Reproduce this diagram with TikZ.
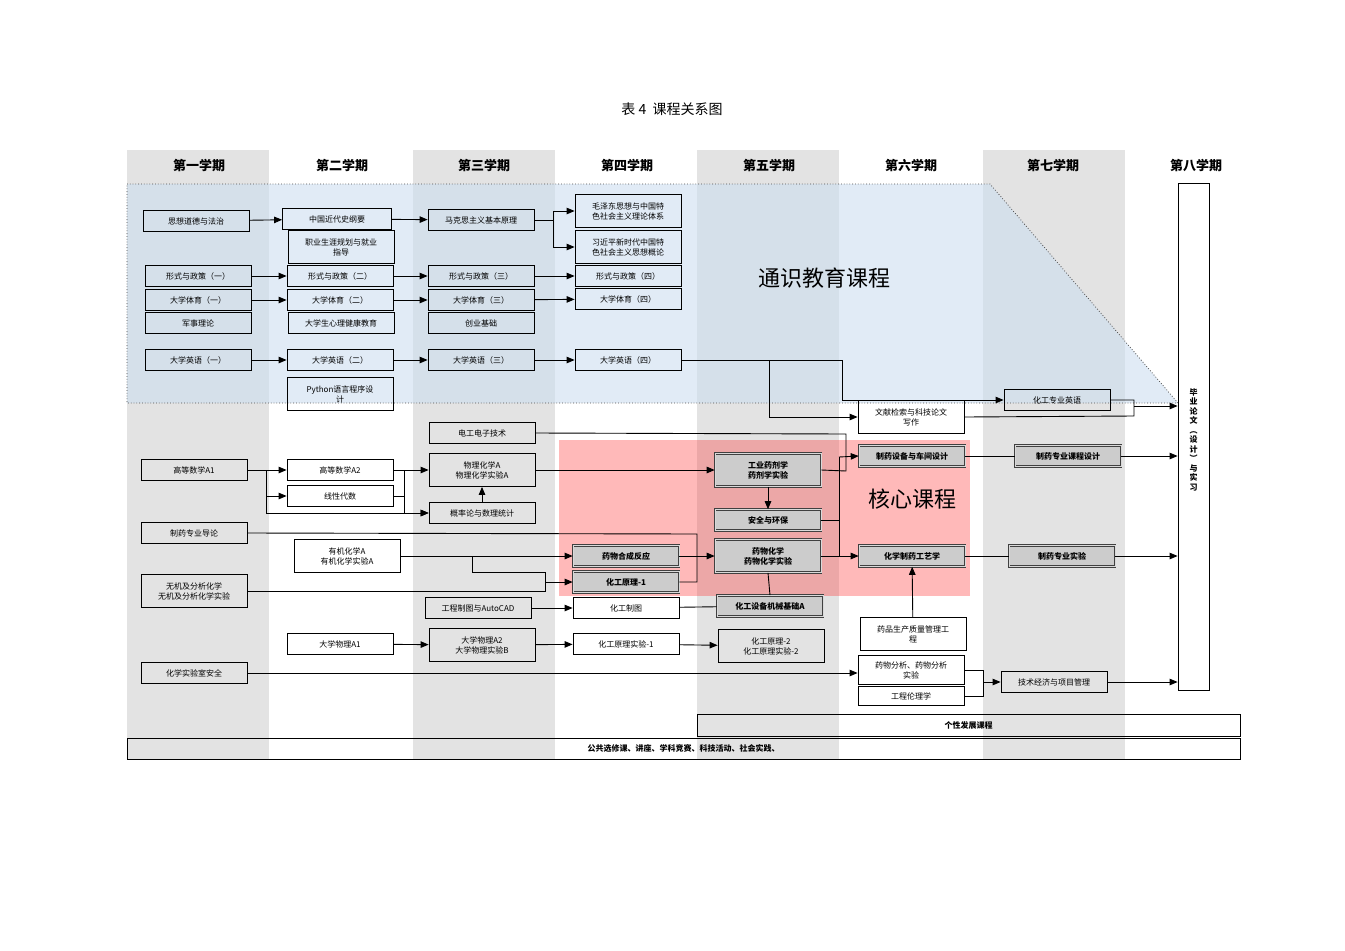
\documentclass[tikz,border=0pt]{standalone}
\usepackage{fontspec}
\setmainfont{Noto Sans CJK SC}
\usetikzlibrary{arrows.meta}
\definecolor{gblue}{RGB}{205,222,240}
\begin{document}
\begin{tikzpicture}[x=1pt,y=-1pt,
 box/.style={draw=black,line width=0.8pt,minimum width=106pt,minimum height=21pt,inner sep=1pt,align=center,font=\fontsize{8}{10}\selectfont},
 tall/.style={box,minimum height=33pt},
 core/.style={box,fill=gray!40,draw=black!75,double=gray!30,double distance=1pt,line width=0.6pt,font=\fontsize{8}{10}\selectfont\bfseries},
 hd/.style={font=\fontsize{13}{15}\selectfont\bfseries},
 ln/.style={line width=0.9pt},
 ar/.style={ln,-{Triangle[length=8pt,width=6.5pt]}}]
\useasboundingbox (0,0) rectangle (1345,951);
\fill[white] (0,0) rectangle (1345,951);
\foreach \x in {127,413,697,983}{\fill[black!11] (\x,150) rectangle (\x+142,760);}
\fill[gblue,opacity=0.6] (127,184) -- (990,184) -- (1178,403) -- (127,403) -- cycle;
\draw[dotted,line width=0.8pt,black!70] (127,184) -- (990,184) -- (1178,403) -- (127,403) -- cycle;
\fill[red!70!pink,opacity=0.35] (559,440) rectangle (970,596);
\node[font=\fontsize{14}{16}\selectfont] (title) at (672,109) {表 4 \ 课程关系图};
\foreach \x/\t [count=\i] in {199/第一学期,342/第二学期,484/第三学期,627/第四学期,769/第五学期,911/第六学期,1053/第七学期,1196/第八学期}
 {\node[hd] (h\i) at (\x,166) {\t};}
\node[font=\fontsize{22}{26}\selectfont] (gl) at (824,278) {通识教育课程};
\node[font=\fontsize{22}{26}\selectfont] (cl) at (912,499) {核心课程};
% column 1
\node[box] (A1) at (196,221) {思想道德与法治};
\node[box] (A2) at (198,276) {形式与政策（一）};
\node[box] (A3) at (198,300) {大学体育（一）};
\node[box] (A4) at (198,323) {军事理论};
\node[box] (A5) at (198,360) {大学英语（一）};
\node[box] (A6) at (194,470) {高等数学A1};
\node[box] (A7) at (194,533) {制药专业导论};
\node[tall] (A8) at (194,591) {无机及分析化学\\无机及分析化学实验};
\node[box] (A9) at (194,673) {化学实验室安全};
% column 2
\node[box,minimum width=109pt] (B1) at (337,219) {中国近代史纲要};
\node[tall] (B2) at (341,247) {职业生涯规划与就业\\指导};
\node[box] (B3) at (340,276) {形式与政策（二）};
\node[box] (B4) at (340,300) {大学体育（二）};
\node[box] (B5) at (341,323) {大学生心理健康教育};
\node[box] (B6) at (340,360) {大学英语（二）};
\node[tall] (B7) at (340,394) {Python语言程序设\\计};
\node[box] (B8) at (340,470) {高等数学A2};
\node[box] (B9) at (340,496) {线性代数};
\node[tall] (B10) at (347,556) {有机化学A\\有机化学实验A};
\node[box] (B11) at (340,644) {大学物理A1};
% column 3
\node[box] (C1) at (481,220) {马克思主义基本原理};
\node[box] (C2) at (481,276) {形式与政策（三）};
\node[box] (C3) at (481,300) {大学体育（三）};
\node[box] (C4) at (481,323) {创业基础};
\node[box] (C5) at (481,360) {大学英语（三）};
\node[box] (C6) at (482,433) {电工电子技术};
\node[tall] (C7) at (482,470) {物理化学A\\物理化学实验A};
\node[box] (C8) at (482,513) {概率论与数理统计};
\node[box] (C9) at (478,608) {工程制图与AutoCAD};
\node[tall] (C10) at (482,645) {大学物理A2\\大学物理实验B};
% column 4
\node[tall] (D1) at (628,211) {毛泽东思想与中国特\\色社会主义理论体系};
\node[tall] (D2) at (628,247) {习近平新时代中国特\\色社会主义思想概论};
\node[box] (D3) at (628,276) {形式与政策（四）};
\node[box] (D4) at (628,299) {大学体育（四）};
\node[box] (D5) at (628,360) {大学英语（四）};
\node[core] (D6) at (626,556) {药物合成反应};
\node[core] (D7) at (626,582) {化工原理-1};
\node[box] (D8) at (626,608) {化工制图};
\node[box] (D9) at (626,644) {化工原理实验-1};
% column 5
\node[core,minimum height=33pt] (E1) at (768,470) {工业药剂学\\药剂学实验};
\node[core] (E2) at (768,520) {安全与环保};
\node[core,minimum height=33pt] (E3) at (768,556) {药物化学\\药物化学实验};
\node[core] (E4) at (770,606) {化工设备机械基础A};
\node[tall] (E5) at (771,646) {化工原理-2\\化工原理实验-2};
% column 6
\node[tall] (F1) at (911,417) {文献检索与科技论文\\写作};
\node[core] (F2) at (912,456) {制药设备与车间设计};
\node[core] (F3) at (912,556) {化学制药工艺学};
\node[tall] (F4) at (913,634) {药品生产质量管理工\\程};
\node[box,minimum height=29pt] (F5) at (911,670) {药物分析、药物分析\\实验};
\node[box,minimum height=19pt] (F6) at (911,696) {工程伦理学};
% column 7
\node[box] (G1) at (1057,400) {化工专业英语};
\node[core] (G2) at (1068,456) {制药专业课程设计};
\node[core] (G3) at (1062,556) {制药专业实验};
\node[box] (G4) at (1054,682) {技术经济与项目管理};
% column 8
\node[draw,line width=0.8pt,minimum width=31pt,minimum height=507pt,inner sep=0pt] (H) at (1193.5,436.5) {};
\node[font=\fontsize{8}{9.5}\selectfont\bfseries,text width=8pt,align=center,anchor=north] (Ht) at (1193.5,385) {毕\\业\\论\\文\\︵\\设\\计\\︶\\与\\实\\习};
\node[draw,line width=0.8pt,minimum width=543pt,minimum height=22pt,font=\fontsize{8}{10}\selectfont\bfseries] (P1) at (968.5,725) {个性发展课程};
\node[draw,line width=0.8pt,minimum width=1113pt,minimum height=21pt,font=\fontsize{8}{10}\selectfont\bfseries] (P2) at (683.5,748.5) {公共选修课、讲座、学科竞赛、科技活动、社会实践、};
% connectors
\draw[ar] (A1) -- (B1);
\draw[ar] (B1) -- (C1);
\draw[ln] (C1.east) -- (553,220);
\draw[ar] (553,220) |- (D1.west);
\draw[ar] (553,220) |- (D2.west);
\draw[ar] (A2) -- (B3); \draw[ar] (B3) -- (C2); \draw[ar] (C2) -- (D3);
\draw[ar] (A3) -- (B4); \draw[ar] (B4) -- (C3); \draw[ar] (C3) -- (D4);
\draw[ar] (A5) -- (B6); \draw[ar] (B6) -- (C5); \draw[ar] (C5) -- (D5);
\coordinate (d5a) at (769,360); \coordinate (d5b) at (842,360);
\draw[ln] (D5.east) -- (d5b);
\draw[ar] (d5a) |- (F1.west);
\draw[ar] (d5b) |- (G1.west);
\coordinate (g1r) at (1134,406);
\draw[ln] (F1.east) -- (1134,416) -- (1134,400) -- (G1.east);
\draw[ar] (g1r) -- (H.west |- g1r);
% maths
\draw[ar] (A6) -- (B8);
\coordinate (m1) at (266,470);
\draw[ar] (m1) |- (B9.west);
\draw[ar] (m1) |- (C8.west);
\coordinate (m2) at (404,470);
\draw[ln] (B8.east) -- (m2);
\draw[ln] (B9.east) -- (404,496);
\draw[ar] (m2) -- (C7.west);
\draw[ar] (m2) |- (C8.west);
\draw[ar] (C8) -- (C7);
\draw[ar] (C7) -- (E1);
\draw[ln] (C6.east) -- (846,434) -- (846,471) -- (E1.east);
\coordinate (v5) at (839,457);
\draw[ar] (v5) -- (F2.west);
\draw[ln] (v5) -- (839,556);
\draw[ln] (E2.east) -- (839,520);
\draw[ar] (E1) -- (E2);
\draw[ar] (E3) -- (F3);
\draw[ln] (E4.north) -- (E3.south);
% organic
\coordinate (j4) at (697,556);
\draw[ln] (A7.east) -- (697,534) -- (697,582) -- (D7.east);
\draw[ln] (D6.east) -- (j4);
\draw[ar] (j4) -- (E3.west);
\draw[ar] (B10) -- (D6);
\draw[ln] (A8.east) -- (545,591) -- (545,572) -- (472,572) -- (472,556);
\draw[ar] (545,582) -- (D7.west);
\draw[ar] (C9) -- (D8);
\draw[ln] (D8) -- (E4);
\draw[ar] (B11) -- (C10);
\draw[ar] (C10) -- (D9);
\draw[ar] (D9) -- (E5);
\draw[ar] (A9.east) -- (F5.west |- A9.east);
\draw[ar] (F4) -- (F3);
\draw[ln] (F5.east) -- (983,670) -- (983,696) -- (F6.east);
\draw[ar] (983,682) -- (G4.west);
\draw[ln] (F2) -- (G2);
\draw[ln] (F3) -- (G3);
\draw[ar] (G2.east) -- (H.west |- G2.east);
\draw[ar] (G3.east) -- (H.west |- G3.east);
\draw[ar] (G4.east) -- (H.west |- G4.east);
\end{tikzpicture}
\end{document}
